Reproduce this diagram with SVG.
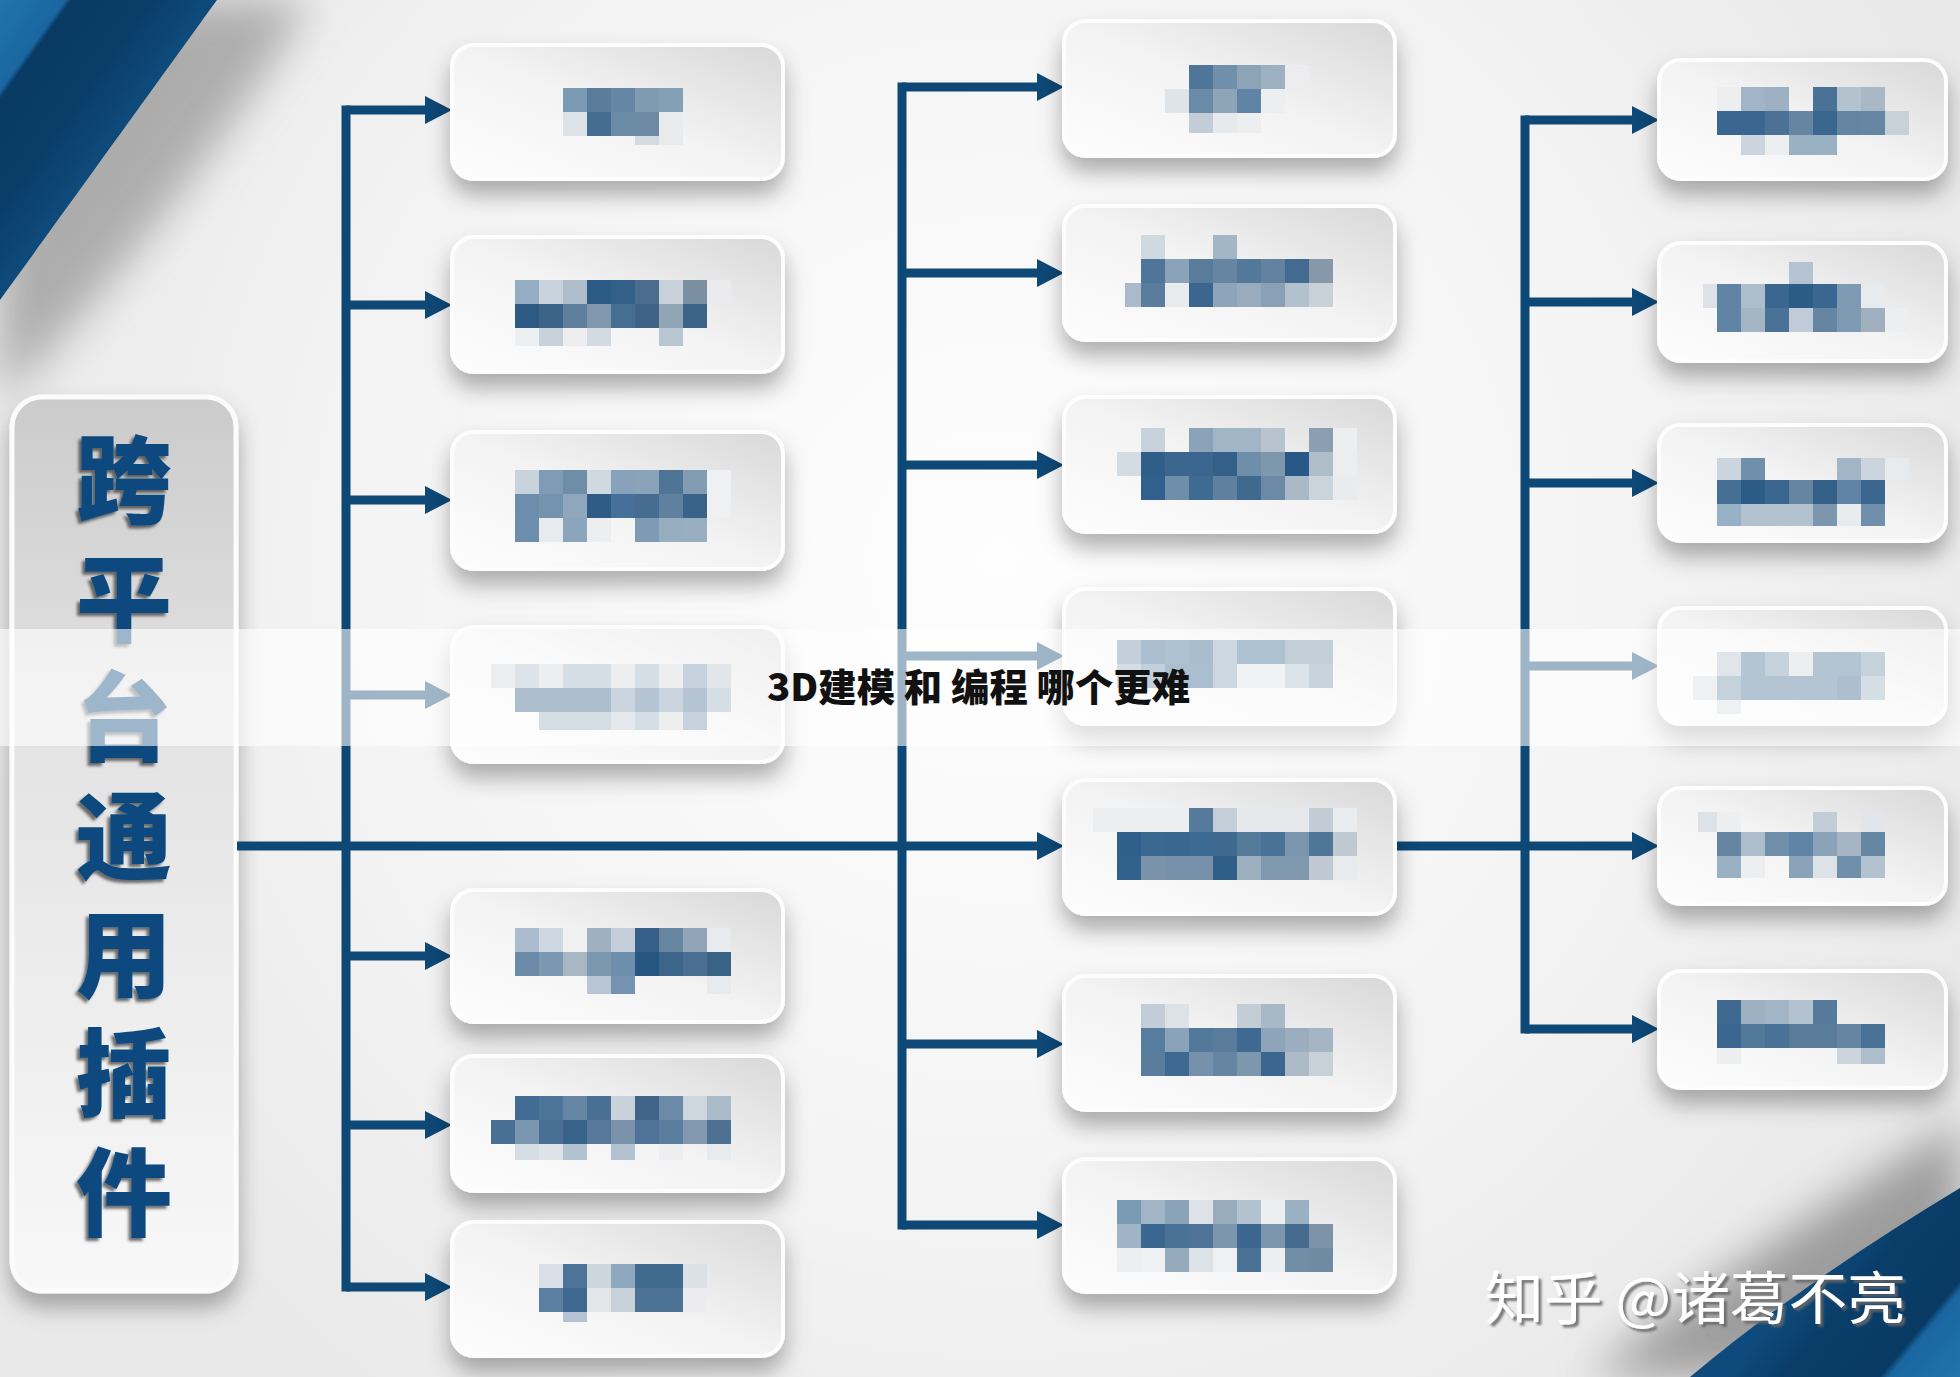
<svg xmlns="http://www.w3.org/2000/svg" width="1960" height="1377" viewBox="0 0 1960 1377">
<defs>
<style>
.box{fill:url(#boxg);stroke:#fdfdfd;stroke-width:4;filter:url(#sh)}
.ln{stroke:#0d4876;stroke-width:9;fill:none}
.ar{stroke:#0d4876;stroke-width:9;fill:none;marker-end:url(#ah)}
.nt{font-family:"Noto Sans CJK SC","Noto Sans CJK TC",sans-serif;font-weight:900;font-size:96px;fill:#0c4a7e;writing-mode:vertical-rl;letter-spacing:22.7px}
.tt{font-family:"Noto Sans CJK SC","Noto Sans CJK TC",sans-serif;font-weight:900;font-size:38px;fill:#111}
.wm{font-family:"Noto Sans CJK SC","Noto Sans CJK TC",sans-serif;font-weight:400;font-size:57px;fill:#fff}
</style>
<linearGradient id="boxg" x1="0" y1="1" x2="1" y2="0">
<stop offset="0" stop-color="#fdfdfd"/><stop offset="0.5" stop-color="#f3f3f3"/><stop offset="1" stop-color="#d8d8d8"/>
</linearGradient>
<linearGradient id="lng" x1="0" y1="0" x2="0" y2="1">
<stop offset="0" stop-color="#cbcbcb"/><stop offset="0.35" stop-color="#e2e2e2"/><stop offset="1" stop-color="#f8f8f8"/>
</linearGradient>
<radialGradient id="bgr" cx="1000" cy="560" r="1050" gradientUnits="userSpaceOnUse">
<stop offset="0" stop-color="#ffffff" stop-opacity="0.95"/><stop offset="0.6" stop-color="#ffffff" stop-opacity="0.5"/><stop offset="1" stop-color="#ffffff" stop-opacity="0"/>
</radialGradient>
<linearGradient id="tlg" x1="0" y1="0" x2="143" y2="103" gradientUnits="userSpaceOnUse">
<stop offset="0" stop-color="#2174ae"/><stop offset="0.3" stop-color="#1a66a0"/><stop offset="0.33" stop-color="#083a63"/><stop offset="0.7" stop-color="#0a3e69"/><stop offset="1" stop-color="#0e4b7c"/>
</linearGradient>
<linearGradient id="brg" x1="1960" y1="1377" x2="1820" y2="1260" gradientUnits="userSpaceOnUse">
<stop offset="0" stop-color="#2174ae"/><stop offset="0.3" stop-color="#1a66a0"/><stop offset="0.34" stop-color="#083a63"/><stop offset="0.75" stop-color="#0a3e69"/><stop offset="1" stop-color="#0e4b7c"/>
</linearGradient>
<filter id="sh" x="-10%" y="-20%" width="120%" height="160%">
<feDropShadow dx="0" dy="14" stdDeviation="11" flood-color="#000" flood-opacity="0.3"/>
</filter>
<filter id="blur" x="-50%" y="-50%" width="200%" height="200%"><feGaussianBlur stdDeviation="22"/></filter>
<filter id="tsh" x="-20%" y="-20%" width="140%" height="140%">
<feDropShadow dx="-3" dy="3" stdDeviation="1.5" flood-color="#000" flood-opacity="0.55"/>
</filter>
<filter id="wsh" x="-10%" y="-20%" width="120%" height="140%">
<feDropShadow dx="3" dy="3" stdDeviation="1" flood-color="#666" flood-opacity="0.85"/>
</filter>
<marker id="ah" markerUnits="userSpaceOnUse" markerWidth="28" markerHeight="28" refX="7" refY="14" orient="auto">
<path d="M0 0 L27 14 L0 28 Z" fill="#0d4876"/>
</marker>
</defs>

<g id="background">
<rect width="1960" height="1377" fill="#e9e9e9"/>
<rect width="1960" height="1377" fill="url(#bgr)"/>
<path d="M0 0 H310 C260 90 125 280 0 400 Z" fill="#7a7a7a" opacity="0.55" filter="url(#blur)"/>
<path d="M1590 1377 C1690 1290 1840 1200 1960 1120 V1377 Z" fill="#6a6a6a" opacity="0.6" filter="url(#blur)"/>
<path d="M0 0 H217 C172 62 62 215 0 300 Z" fill="url(#tlg)"/>
<path d="M1690 1377 C1770 1310 1865 1245 1960 1188 V1377 Z" fill="url(#brg)"/>
</g>

<g id="n-root">
<rect x="12" y="397" width="224" height="894" rx="30" fill="url(#lng)" stroke="#fbfbfb" stroke-width="5" filter="url(#sh)"/>
<text class="nt" x="124" y="431" filter="url(#tsh)">跨平台通用插件</text>
</g>

<g id="connectors">
<path class="ln" d="M346 105.5 V1291.5"/>
<path class="ar" d="M346 110 H432"/>
<path class="ar" d="M346 305 H432"/>
<path class="ar" d="M346 500 H432"/>
<path class="ar" d="M346 695 H432"/>
<path class="ar" d="M346 956 H432"/>
<path class="ar" d="M346 1125 H432"/>
<path class="ar" d="M346 1287 H432"/>
<path class="ar" d="M237 846 H1044"/>
<path class="ln" d="M902 82.5 V1229.5"/>
<path class="ar" d="M902 87 H1044"/>
<path class="ar" d="M902 273 H1044"/>
<path class="ar" d="M902 465 H1044"/>
<path class="ar" d="M902 656 H1044"/>
<path class="ar" d="M902 1044 H1044"/>
<path class="ar" d="M902 1225 H1044"/>
<path class="ln" d="M1395 846 H1525"/>
<path class="ln" d="M1525 115.5 V1033.5"/>
<path class="ar" d="M1525 120 H1639"/>
<path class="ar" d="M1525 302 H1639"/>
<path class="ar" d="M1525 483 H1639"/>
<path class="ar" d="M1525 666 H1639"/>
<path class="ar" d="M1525 846 H1639"/>
<path class="ar" d="M1525 1029 H1639"/>
</g>

<g id="n-L1">
<rect class="box" x="452" y="45" width="331" height="134" rx="22"/>
<rect x="563" y="88" width="24" height="24" fill="#7b9ab3"/><rect x="587" y="88" width="24" height="24" fill="#5a7d9c"/><rect x="611" y="88" width="24" height="24" fill="#6587a5"/><rect x="635" y="88" width="24" height="24" fill="#7e9bb2"/><rect x="659" y="88" width="24" height="24" fill="#84a0b5"/>
<rect x="563" y="112" width="24" height="24" fill="#dde2e7"/><rect x="587" y="112" width="24" height="24" fill="#456d91"/><rect x="611" y="112" width="24" height="24" fill="#6b8ba6"/><rect x="635" y="112" width="24" height="24" fill="#6c8aa3"/><rect x="659" y="112" width="24" height="24" fill="#e9ebed"/>
<rect x="635" y="136" width="24" height="9" fill="#d5dbe2"/><rect x="659" y="136" width="24" height="9" fill="#e8eaec"/>
</g>

<g id="n-L2">
<rect class="box" x="452" y="237" width="331" height="135" rx="22"/>
<rect x="515" y="280" width="24" height="24" fill="#94adc3"/><rect x="539" y="280" width="24" height="24" fill="#c9d3dd"/><rect x="563" y="280" width="24" height="24" fill="#aebccb"/><rect x="587" y="280" width="24" height="24" fill="#2c5b85"/><rect x="611" y="280" width="24" height="24" fill="#335f88"/><rect x="635" y="280" width="24" height="24" fill="#4a6d8e"/><rect x="659" y="280" width="24" height="24" fill="#c8d1da"/><rect x="683" y="280" width="24" height="24" fill="#7b8fa2"/><rect x="707" y="280" width="24" height="24" fill="#ebebed"/>
<rect x="515" y="304" width="24" height="24" fill="#2d5a83"/><rect x="539" y="304" width="24" height="24" fill="#3c6488"/><rect x="563" y="304" width="24" height="24" fill="#5f7f9c"/><rect x="587" y="304" width="24" height="24" fill="#8097ad"/><rect x="611" y="304" width="24" height="24" fill="#456e92"/><rect x="635" y="304" width="24" height="24" fill="#3f6386"/><rect x="659" y="304" width="24" height="24" fill="#91a5b7"/><rect x="683" y="304" width="24" height="24" fill="#3c6388"/>
<rect x="515" y="328" width="24" height="18" fill="#eeeff1"/><rect x="539" y="328" width="24" height="18" fill="#c8d1da"/><rect x="563" y="328" width="24" height="18" fill="#eceef0"/><rect x="587" y="328" width="24" height="18" fill="#d3dae1"/><rect x="659" y="328" width="24" height="18" fill="#b8c6d3"/>
</g>

<g id="n-L3">
<rect class="box" x="452" y="432" width="331" height="137" rx="22"/>
<rect x="515" y="470" width="24" height="24" fill="#c9d3dd"/><rect x="539" y="470" width="24" height="24" fill="#7f9cb6"/><rect x="563" y="470" width="24" height="24" fill="#6e8ea8"/><rect x="587" y="470" width="24" height="24" fill="#d0d8e0"/><rect x="611" y="470" width="24" height="24" fill="#87a2ba"/><rect x="635" y="470" width="24" height="24" fill="#8aa3b8"/><rect x="659" y="470" width="24" height="24" fill="#4f7596"/><rect x="683" y="470" width="24" height="24" fill="#829cb2"/><rect x="707" y="470" width="24" height="24" fill="#eef0f2"/>
<rect x="515" y="494" width="24" height="24" fill="#6c8dab"/><rect x="539" y="494" width="24" height="24" fill="#7393ae"/><rect x="563" y="494" width="24" height="24" fill="#8ea7bc"/><rect x="587" y="494" width="24" height="24" fill="#2e5c86"/><rect x="611" y="494" width="24" height="24" fill="#46709a"/><rect x="635" y="494" width="24" height="24" fill="#466d91"/><rect x="659" y="494" width="24" height="24" fill="#5e819f"/><rect x="683" y="494" width="24" height="24" fill="#3a6389"/><rect x="707" y="494" width="24" height="24" fill="#eef0f2"/>
<rect x="515" y="518" width="24" height="24" fill="#6c8dab"/><rect x="539" y="518" width="24" height="24" fill="#e8ebee"/><rect x="563" y="518" width="24" height="24" fill="#8ba5bc"/><rect x="587" y="518" width="24" height="24" fill="#eceef0"/><rect x="635" y="518" width="24" height="24" fill="#7f9bb3"/><rect x="659" y="518" width="24" height="24" fill="#97adc0"/><rect x="683" y="518" width="24" height="24" fill="#98aec1"/>
</g>

<g id="n-L4">
<rect class="box" x="452" y="627" width="331" height="135" rx="22"/>
<rect x="491" y="664" width="24" height="24" fill="#cfd4d9"/><rect x="515" y="664" width="24" height="24" fill="#aab9c8"/><rect x="539" y="664" width="24" height="24" fill="#cfd4d9"/><rect x="563" y="664" width="24" height="24" fill="#96aabe"/><rect x="587" y="664" width="24" height="24" fill="#96aabe"/><rect x="611" y="664" width="24" height="24" fill="#cfd4d9"/><rect x="635" y="664" width="24" height="24" fill="#96aabe"/><rect x="659" y="664" width="24" height="24" fill="#cfd4d9"/><rect x="683" y="664" width="24" height="24" fill="#6e8eac"/><rect x="707" y="664" width="24" height="24" fill="#b6c0ca"/>
<rect x="515" y="688" width="24" height="24" fill="#345f87"/><rect x="539" y="688" width="24" height="24" fill="#345f87"/><rect x="563" y="688" width="24" height="24" fill="#345f87"/><rect x="587" y="688" width="24" height="24" fill="#345f87"/><rect x="611" y="688" width="24" height="24" fill="#7d96af"/><rect x="635" y="688" width="24" height="24" fill="#466b8e"/><rect x="659" y="688" width="24" height="24" fill="#7d96af"/><rect x="683" y="688" width="24" height="24" fill="#466b8e"/><rect x="707" y="688" width="24" height="24" fill="#96aabe"/>
<rect x="539" y="712" width="24" height="18" fill="#96aabe"/><rect x="563" y="712" width="24" height="18" fill="#96aabe"/><rect x="587" y="712" width="24" height="18" fill="#96aabe"/><rect x="611" y="712" width="24" height="18" fill="#bec8d2"/><rect x="635" y="712" width="24" height="18" fill="#96aabe"/><rect x="659" y="712" width="24" height="18" fill="#cfd4d9"/><rect x="683" y="712" width="24" height="18" fill="#6e8eac"/>
</g>

<g id="n-L5">
<rect class="box" x="452" y="890" width="331" height="132" rx="22"/>
<rect x="515" y="928" width="24" height="24" fill="#aabccd"/><rect x="539" y="928" width="24" height="24" fill="#cfd8e0"/><rect x="563" y="928" width="24" height="24" fill="#eef0f2"/><rect x="587" y="928" width="24" height="24" fill="#9fb0c1"/><rect x="611" y="928" width="24" height="24" fill="#c4ceda"/><rect x="635" y="928" width="24" height="24" fill="#355f88"/><rect x="659" y="928" width="24" height="24" fill="#67869f"/><rect x="683" y="928" width="24" height="24" fill="#90a5b8"/><rect x="707" y="928" width="24" height="24" fill="#e8ebee"/>
<rect x="515" y="952" width="24" height="24" fill="#6a8aa8"/><rect x="539" y="952" width="24" height="24" fill="#7a98b2"/><rect x="563" y="952" width="24" height="24" fill="#a9b7c5"/><rect x="587" y="952" width="24" height="24" fill="#7c97b0"/><rect x="611" y="952" width="24" height="24" fill="#6e8ead"/><rect x="635" y="952" width="24" height="24" fill="#285683"/><rect x="659" y="952" width="24" height="24" fill="#3d6589"/><rect x="683" y="952" width="24" height="24" fill="#4a6f92"/><rect x="707" y="952" width="24" height="24" fill="#3b6386"/>
<rect x="587" y="976" width="24" height="18" fill="#b8c6d3"/><rect x="611" y="976" width="24" height="18" fill="#7493b0"/><rect x="707" y="976" width="24" height="18" fill="#e8ebee"/>
</g>

<g id="n-L6">
<rect class="box" x="452" y="1056" width="331" height="135" rx="22"/>
<rect x="515" y="1096" width="24" height="24" fill="#436c94"/><rect x="539" y="1096" width="24" height="24" fill="#4c7498"/><rect x="563" y="1096" width="24" height="24" fill="#6587a5"/><rect x="587" y="1096" width="24" height="24" fill="#4a6f95"/><rect x="611" y="1096" width="24" height="24" fill="#c9d2db"/><rect x="635" y="1096" width="24" height="24" fill="#3f6488"/><rect x="659" y="1096" width="24" height="24" fill="#6b8aa7"/><rect x="683" y="1096" width="24" height="24" fill="#ced6de"/><rect x="707" y="1096" width="24" height="24" fill="#aabac8"/>
<rect x="491" y="1120" width="24" height="24" fill="#4a6f95"/><rect x="515" y="1120" width="24" height="24" fill="#7a95ae"/><rect x="539" y="1120" width="24" height="24" fill="#4a6f95"/><rect x="563" y="1120" width="24" height="24" fill="#3a6389"/><rect x="587" y="1120" width="24" height="24" fill="#56799b"/><rect x="611" y="1120" width="24" height="24" fill="#7a93ab"/><rect x="635" y="1120" width="24" height="24" fill="#50739a"/><rect x="659" y="1120" width="24" height="24" fill="#5b7d9e"/><rect x="683" y="1120" width="24" height="24" fill="#8299af"/><rect x="707" y="1120" width="24" height="24" fill="#4e7092"/>
<rect x="515" y="1144" width="24" height="16" fill="#d5dce3"/><rect x="539" y="1144" width="24" height="16" fill="#dde3e8"/><rect x="563" y="1144" width="24" height="16" fill="#b3c2d0"/><rect x="611" y="1144" width="24" height="16" fill="#b3c2d0"/><rect x="659" y="1144" width="24" height="16" fill="#eceef0"/><rect x="707" y="1144" width="24" height="16" fill="#e8ebee"/>
</g>

<g id="n-L7">
<rect class="box" x="452" y="1222" width="331" height="134" rx="22"/>
<rect x="539" y="1264" width="24" height="24" fill="#d8dfe6"/><rect x="563" y="1264" width="24" height="24" fill="#4d7398"/><rect x="587" y="1264" width="24" height="24" fill="#cdd5dd"/><rect x="611" y="1264" width="24" height="24" fill="#8ea8bf"/><rect x="635" y="1264" width="24" height="24" fill="#416a8f"/><rect x="659" y="1264" width="24" height="24" fill="#416a8f"/><rect x="683" y="1264" width="24" height="24" fill="#dbe1e6"/>
<rect x="539" y="1288" width="24" height="24" fill="#5a7fa0"/><rect x="563" y="1288" width="24" height="24" fill="#3f6890"/><rect x="587" y="1288" width="24" height="24" fill="#e4e7ea"/><rect x="611" y="1288" width="24" height="24" fill="#c8d1da"/><rect x="635" y="1288" width="24" height="24" fill="#4c7296"/><rect x="659" y="1288" width="24" height="24" fill="#4c7296"/><rect x="683" y="1288" width="24" height="24" fill="#ececee"/>
<rect x="563" y="1312" width="24" height="10" fill="#b3c3d3"/>
</g>

<g id="n-M1">
<rect class="box" x="1064" y="21" width="331" height="135" rx="22"/>
<rect x="1189" y="65" width="24" height="24" fill="#4f7699"/><rect x="1213" y="65" width="24" height="24" fill="#6f8fab"/><rect x="1237" y="65" width="24" height="24" fill="#8da3b6"/><rect x="1261" y="65" width="24" height="24" fill="#9db1c3"/><rect x="1285" y="65" width="24" height="24" fill="#ededef"/>
<rect x="1165" y="89" width="24" height="24" fill="#dfe4e9"/><rect x="1189" y="89" width="24" height="24" fill="#6b8aa7"/><rect x="1213" y="89" width="24" height="24" fill="#8ea5b8"/><rect x="1237" y="89" width="24" height="24" fill="#5f84a6"/><rect x="1261" y="89" width="24" height="24" fill="#eceef0"/>
<rect x="1189" y="113" width="24" height="20" fill="#c3cdd7"/><rect x="1213" y="113" width="24" height="20" fill="#e7eaed"/><rect x="1237" y="113" width="24" height="20" fill="#eceef0"/>
</g>

<g id="n-M2">
<rect class="box" x="1064" y="206" width="331" height="134" rx="22"/>
<rect x="1141" y="235" width="24" height="24" fill="#d0d8e0"/><rect x="1213" y="235" width="24" height="24" fill="#a3b6c8"/>
<rect x="1141" y="259" width="24" height="24" fill="#4f7699"/><rect x="1165" y="259" width="24" height="24" fill="#8aa3b8"/><rect x="1189" y="259" width="24" height="24" fill="#5a7c9b"/><rect x="1213" y="259" width="24" height="24" fill="#6585a3"/><rect x="1237" y="259" width="24" height="24" fill="#52789a"/><rect x="1261" y="259" width="24" height="24" fill="#6282a0"/><rect x="1285" y="259" width="24" height="24" fill="#426b8f"/><rect x="1309" y="259" width="24" height="24" fill="#8599ab"/>
<rect x="1125" y="283" width="16" height="24" fill="#a9bbcb"/><rect x="1141" y="283" width="24" height="24" fill="#5a7d9d"/><rect x="1165" y="283" width="24" height="24" fill="#e8ebee"/><rect x="1189" y="283" width="24" height="24" fill="#3c6690"/><rect x="1213" y="283" width="24" height="24" fill="#8ea5b9"/><rect x="1237" y="283" width="24" height="24" fill="#98acbe"/><rect x="1261" y="283" width="24" height="24" fill="#89a0b5"/><rect x="1285" y="283" width="24" height="24" fill="#b3c0cd"/><rect x="1309" y="283" width="24" height="24" fill="#c8d0d8"/>
</g>

<g id="n-M3">
<rect class="box" x="1064" y="397" width="331" height="135" rx="22"/>
<rect x="1141" y="428" width="24" height="24" fill="#c8d2dc"/><rect x="1189" y="428" width="24" height="24" fill="#8aa3b8"/><rect x="1213" y="428" width="24" height="24" fill="#a2b5c6"/><rect x="1237" y="428" width="24" height="24" fill="#a2b5c6"/><rect x="1261" y="428" width="24" height="24" fill="#b7c4d0"/><rect x="1309" y="428" width="24" height="24" fill="#8a9fb2"/><rect x="1333" y="428" width="24" height="24" fill="#eceef0"/>
<rect x="1117" y="452" width="24" height="24" fill="#d3dbe3"/><rect x="1141" y="452" width="24" height="24" fill="#2f5e88"/><rect x="1165" y="452" width="24" height="24" fill="#3a6690"/><rect x="1189" y="452" width="24" height="24" fill="#3a6690"/><rect x="1213" y="452" width="24" height="24" fill="#345f87"/><rect x="1237" y="452" width="24" height="24" fill="#6f8ea9"/><rect x="1261" y="452" width="24" height="24" fill="#7d97ad"/><rect x="1285" y="452" width="24" height="24" fill="#2a5886"/><rect x="1309" y="452" width="24" height="24" fill="#aebdca"/><rect x="1333" y="452" width="24" height="24" fill="#ebedef"/>
<rect x="1141" y="476" width="24" height="24" fill="#30608b"/><rect x="1165" y="476" width="24" height="24" fill="#6f8ea9"/><rect x="1189" y="476" width="24" height="24" fill="#3f6a92"/><rect x="1213" y="476" width="24" height="24" fill="#5f809e"/><rect x="1237" y="476" width="24" height="24" fill="#40698f"/><rect x="1261" y="476" width="24" height="24" fill="#6c8aa7"/><rect x="1285" y="476" width="24" height="24" fill="#a9b9c8"/><rect x="1309" y="476" width="24" height="24" fill="#cbd3db"/><rect x="1333" y="476" width="24" height="24" fill="#e9ebed"/>
</g>

<g id="n-M4">
<rect class="box" x="1064" y="589" width="331" height="135" rx="22"/>
<rect x="1117" y="640" width="24" height="24" fill="#6989a5"/><rect x="1141" y="640" width="24" height="24" fill="#2d5c87"/><rect x="1165" y="640" width="24" height="24" fill="#39668c"/><rect x="1189" y="640" width="24" height="24" fill="#285a84"/><rect x="1213" y="640" width="24" height="24" fill="#7f9bb1"/><rect x="1237" y="640" width="24" height="24" fill="#346489"/><rect x="1261" y="640" width="24" height="24" fill="#346489"/><rect x="1285" y="640" width="24" height="24" fill="#69879f"/><rect x="1309" y="640" width="24" height="24" fill="#69879f"/>
<rect x="1117" y="664" width="24" height="24" fill="#96aabe"/><rect x="1141" y="664" width="24" height="24" fill="#6989a5"/><rect x="1165" y="664" width="24" height="24" fill="#2d5c87"/><rect x="1189" y="664" width="24" height="24" fill="#2d5c87"/><rect x="1213" y="664" width="24" height="24" fill="#7f9bb1"/><rect x="1237" y="664" width="24" height="24" fill="#d9dee3"/><rect x="1261" y="664" width="24" height="24" fill="#d9dee3"/><rect x="1285" y="664" width="24" height="24" fill="#a7b9c8"/><rect x="1309" y="664" width="24" height="24" fill="#7591aa"/>
</g>

<g id="n-M5">
<rect class="box" x="1064" y="780" width="331" height="134" rx="22"/>
<rect x="1093" y="808" width="96" height="24" fill="#eceef0"/><rect x="1189" y="808" width="24" height="24" fill="#557a9c"/><rect x="1213" y="808" width="24" height="24" fill="#c4ced8"/><rect x="1237" y="808" width="72" height="24" fill="#e6e8eb"/><rect x="1309" y="808" width="24" height="24" fill="#c3ccd4"/><rect x="1333" y="808" width="24" height="24" fill="#eaedf0"/>
<rect x="1117" y="832" width="24" height="24" fill="#2f5f8a"/><rect x="1141" y="832" width="24" height="24" fill="#3b6890"/><rect x="1165" y="832" width="24" height="24" fill="#3a6790"/><rect x="1189" y="832" width="24" height="24" fill="#3d6a92"/><rect x="1213" y="832" width="24" height="24" fill="#40698f"/><rect x="1237" y="832" width="24" height="24" fill="#547a9b"/><rect x="1261" y="832" width="24" height="24" fill="#4a7196"/><rect x="1285" y="832" width="24" height="24" fill="#7a95ad"/><rect x="1309" y="832" width="24" height="24" fill="#4f7597"/><rect x="1333" y="832" width="24" height="24" fill="#c0c9d1"/>
<rect x="1117" y="856" width="24" height="24" fill="#30608b"/><rect x="1141" y="856" width="24" height="24" fill="#7a93ab"/><rect x="1165" y="856" width="24" height="24" fill="#7891aa"/><rect x="1189" y="856" width="24" height="24" fill="#7891aa"/><rect x="1213" y="856" width="24" height="24" fill="#2f5e88"/><rect x="1237" y="856" width="24" height="24" fill="#9cafbe"/><rect x="1261" y="856" width="24" height="24" fill="#7f98ae"/><rect x="1285" y="856" width="24" height="24" fill="#7f98ae"/><rect x="1309" y="856" width="24" height="24" fill="#c0c9d1"/><rect x="1333" y="856" width="24" height="24" fill="#e8eaec"/>
</g>

<g id="n-M6">
<rect class="box" x="1064" y="976" width="331" height="134" rx="22"/>
<rect x="1141" y="1004" width="24" height="24" fill="#c3cdd7"/><rect x="1165" y="1004" width="24" height="24" fill="#dde2e7"/><rect x="1237" y="1004" width="24" height="24" fill="#c4cdd6"/><rect x="1261" y="1004" width="24" height="24" fill="#a9b8c6"/>
<rect x="1141" y="1028" width="24" height="24" fill="#577d9e"/><rect x="1165" y="1028" width="24" height="24" fill="#8aa3b8"/><rect x="1189" y="1028" width="24" height="24" fill="#52789a"/><rect x="1213" y="1028" width="24" height="24" fill="#5a7c9b"/><rect x="1237" y="1028" width="24" height="24" fill="#3f6990"/><rect x="1261" y="1028" width="24" height="24" fill="#8ea5b9"/><rect x="1285" y="1028" width="24" height="24" fill="#9aaec0"/><rect x="1309" y="1028" width="24" height="24" fill="#a6b5c3"/>
<rect x="1141" y="1052" width="24" height="24" fill="#5a7d9d"/><rect x="1165" y="1052" width="24" height="24" fill="#3f6990"/><rect x="1189" y="1052" width="24" height="24" fill="#7591ac"/><rect x="1213" y="1052" width="24" height="24" fill="#6585a3"/><rect x="1237" y="1052" width="24" height="24" fill="#7d97ad"/><rect x="1261" y="1052" width="24" height="24" fill="#3c6690"/><rect x="1285" y="1052" width="24" height="24" fill="#adbac7"/><rect x="1309" y="1052" width="24" height="24" fill="#c8d0d8"/>
</g>

<g id="n-M7">
<rect class="box" x="1064" y="1159" width="331" height="133" rx="22"/>
<rect x="1117" y="1200" width="24" height="24" fill="#7b9ab3"/><rect x="1141" y="1200" width="24" height="24" fill="#a2b5c6"/><rect x="1165" y="1200" width="24" height="24" fill="#8aa3b8"/><rect x="1189" y="1200" width="24" height="24" fill="#dde2e7"/><rect x="1213" y="1200" width="24" height="24" fill="#98acbe"/><rect x="1237" y="1200" width="24" height="24" fill="#b3c2cf"/><rect x="1261" y="1200" width="24" height="24" fill="#eceef0"/><rect x="1285" y="1200" width="24" height="24" fill="#9ab0c3"/>
<rect x="1117" y="1224" width="24" height="24" fill="#9fb4c6"/><rect x="1141" y="1224" width="24" height="24" fill="#3a6690"/><rect x="1165" y="1224" width="24" height="24" fill="#4a7196"/><rect x="1189" y="1224" width="24" height="24" fill="#4f7497"/><rect x="1213" y="1224" width="24" height="24" fill="#7c97ad"/><rect x="1237" y="1224" width="24" height="24" fill="#3a6690"/><rect x="1261" y="1224" width="24" height="24" fill="#7c96ad"/><rect x="1285" y="1224" width="24" height="24" fill="#456b8f"/><rect x="1309" y="1224" width="24" height="24" fill="#7c93a8"/>
<rect x="1117" y="1248" width="24" height="24" fill="#eceef0"/><rect x="1141" y="1248" width="24" height="24" fill="#eff0f2"/><rect x="1165" y="1248" width="24" height="24" fill="#96aabd"/><rect x="1189" y="1248" width="24" height="24" fill="#dde2e7"/><rect x="1213" y="1248" width="24" height="24" fill="#eff0f2"/><rect x="1237" y="1248" width="24" height="24" fill="#4a7196"/><rect x="1261" y="1248" width="24" height="24" fill="#eceef0"/><rect x="1285" y="1248" width="24" height="24" fill="#728ea6"/><rect x="1309" y="1248" width="24" height="24" fill="#6f8aa3"/>
</g>

<g id="n-R1">
<rect class="box" x="1659" y="60" width="287" height="119" rx="22"/>
<rect x="1717" y="87" width="24" height="24" fill="#eceef0"/><rect x="1741" y="87" width="24" height="24" fill="#a1b5c7"/><rect x="1765" y="87" width="24" height="24" fill="#9db1c3"/><rect x="1813" y="87" width="24" height="24" fill="#4a7196"/><rect x="1837" y="87" width="24" height="24" fill="#b3c2cf"/><rect x="1861" y="87" width="24" height="24" fill="#a9b8c6"/>
<rect x="1717" y="111" width="24" height="24" fill="#3a6690"/><rect x="1741" y="111" width="24" height="24" fill="#3a6690"/><rect x="1765" y="111" width="24" height="24" fill="#4a7196"/><rect x="1789" y="111" width="24" height="24" fill="#6585a3"/><rect x="1813" y="111" width="24" height="24" fill="#3a6690"/><rect x="1837" y="111" width="24" height="24" fill="#6585a3"/><rect x="1861" y="111" width="24" height="24" fill="#6687a4"/><rect x="1885" y="111" width="24" height="24" fill="#c8d0d8"/>
<rect x="1741" y="135" width="24" height="20" fill="#ccd5dd"/><rect x="1765" y="135" width="24" height="20" fill="#eceef0"/><rect x="1789" y="135" width="24" height="20" fill="#9ab0c3"/><rect x="1813" y="135" width="24" height="20" fill="#9ab0c3"/>
</g>

<g id="n-R2">
<rect class="box" x="1659" y="243" width="287" height="118" rx="22"/>
<rect x="1789" y="262" width="24" height="22" fill="#b3c3d1"/>
<rect x="1703" y="284" width="14" height="24" fill="#dde2e7"/><rect x="1717" y="284" width="24" height="24" fill="#5f84a6"/><rect x="1741" y="284" width="24" height="24" fill="#aebdcb"/><rect x="1765" y="284" width="24" height="24" fill="#3a6690"/><rect x="1789" y="284" width="24" height="24" fill="#2c5b85"/><rect x="1813" y="284" width="24" height="24" fill="#3a6690"/><rect x="1837" y="284" width="24" height="24" fill="#7e9bb3"/><rect x="1861" y="284" width="24" height="24" fill="#e8ebee"/>
<rect x="1717" y="308" width="24" height="24" fill="#5f84a6"/><rect x="1741" y="308" width="24" height="24" fill="#a6b5c3"/><rect x="1765" y="308" width="24" height="24" fill="#4a7196"/><rect x="1789" y="308" width="24" height="24" fill="#c0ccd7"/><rect x="1813" y="308" width="24" height="24" fill="#6585a3"/><rect x="1837" y="308" width="24" height="24" fill="#7e9bb3"/><rect x="1861" y="308" width="24" height="24" fill="#a1b0be"/><rect x="1885" y="308" width="24" height="24" fill="#eceef0"/>
</g>

<g id="n-R3">
<rect class="box" x="1659" y="425" width="287" height="116" rx="22"/>
<rect x="1717" y="458" width="24" height="22" fill="#ccd5dd"/><rect x="1741" y="458" width="24" height="22" fill="#6f8fab"/><rect x="1837" y="458" width="24" height="22" fill="#a1b5c7"/><rect x="1861" y="458" width="24" height="22" fill="#ccd5dd"/><rect x="1885" y="458" width="24" height="22" fill="#e8ebee"/>
<rect x="1717" y="480" width="24" height="24" fill="#456f94"/><rect x="1741" y="480" width="24" height="24" fill="#2c5b85"/><rect x="1765" y="480" width="24" height="24" fill="#3a6690"/><rect x="1789" y="480" width="24" height="24" fill="#6585a3"/><rect x="1813" y="480" width="24" height="24" fill="#345f87"/><rect x="1837" y="480" width="24" height="24" fill="#5f84a6"/><rect x="1861" y="480" width="24" height="24" fill="#3a6690"/>
<rect x="1717" y="504" width="24" height="22" fill="#98b0c4"/><rect x="1741" y="504" width="24" height="22" fill="#b3c2cf"/><rect x="1765" y="504" width="24" height="22" fill="#b3c2cf"/><rect x="1789" y="504" width="24" height="22" fill="#b3c2cf"/><rect x="1813" y="504" width="24" height="22" fill="#7c96ad"/><rect x="1837" y="504" width="24" height="22" fill="#e8ebee"/><rect x="1861" y="504" width="24" height="22" fill="#6f8fab"/>
</g>

<g id="n-R4">
<rect class="box" x="1659" y="608" width="287" height="116" rx="22"/>
<rect x="1717" y="652" width="24" height="24" fill="#afbecd"/><rect x="1741" y="652" width="24" height="24" fill="#416b8e"/><rect x="1765" y="652" width="24" height="24" fill="#6e8ea7"/><rect x="1789" y="652" width="24" height="24" fill="#cfd4d9"/><rect x="1813" y="652" width="24" height="24" fill="#416b8e"/><rect x="1837" y="652" width="24" height="24" fill="#416b8e"/><rect x="1861" y="652" width="24" height="24" fill="#6e8ea7"/>
<rect x="1693" y="676" width="24" height="24" fill="#d4d9de"/><rect x="1717" y="676" width="24" height="24" fill="#6e8ea7"/><rect x="1741" y="676" width="24" height="24" fill="#446d90"/><rect x="1765" y="676" width="24" height="24" fill="#446d90"/><rect x="1789" y="676" width="24" height="24" fill="#446d90"/><rect x="1813" y="676" width="24" height="24" fill="#446d90"/><rect x="1837" y="676" width="24" height="24" fill="#345f87"/><rect x="1861" y="676" width="24" height="24" fill="#96aabe"/>
<rect x="1717" y="700" width="24" height="14" fill="#d4d9de"/>
</g>

<g id="n-R5">
<rect class="box" x="1659" y="788" width="287" height="116" rx="22"/>
<rect x="1698" y="812" width="19" height="20" fill="#dde2e7"/><rect x="1717" y="812" width="24" height="20" fill="#eceef0"/><rect x="1813" y="812" width="24" height="20" fill="#c3cdd7"/><rect x="1861" y="812" width="24" height="20" fill="#e2e6ea"/>
<rect x="1717" y="832" width="24" height="24" fill="#6585a3"/><rect x="1741" y="832" width="24" height="24" fill="#aebdcb"/><rect x="1765" y="832" width="24" height="24" fill="#6f8fab"/><rect x="1789" y="832" width="24" height="24" fill="#5f84a6"/><rect x="1813" y="832" width="24" height="24" fill="#8aa3b8"/><rect x="1837" y="832" width="24" height="24" fill="#a6b5c3"/><rect x="1861" y="832" width="24" height="24" fill="#6687a4"/>
<rect x="1717" y="856" width="24" height="22" fill="#9ab0c3"/><rect x="1741" y="856" width="24" height="22" fill="#eceef0"/><rect x="1789" y="856" width="24" height="22" fill="#8aa3b8"/><rect x="1813" y="856" width="24" height="22" fill="#dde2e7"/><rect x="1837" y="856" width="24" height="22" fill="#6f8fab"/><rect x="1861" y="856" width="24" height="22" fill="#b3c2cf"/>
</g>

<g id="n-R6">
<rect class="box" x="1659" y="971" width="287" height="117" rx="22"/>
<rect x="1717" y="1000" width="24" height="24" fill="#3f6990"/><rect x="1741" y="1000" width="24" height="24" fill="#9db1c3"/><rect x="1765" y="1000" width="24" height="24" fill="#a1b5c7"/><rect x="1789" y="1000" width="24" height="24" fill="#b3c2cf"/><rect x="1813" y="1000" width="24" height="24" fill="#557a9c"/>
<rect x="1717" y="1024" width="24" height="24" fill="#3a6690"/><rect x="1741" y="1024" width="24" height="24" fill="#52789a"/><rect x="1765" y="1024" width="24" height="24" fill="#4a7196"/><rect x="1789" y="1024" width="24" height="24" fill="#5a7c9b"/><rect x="1813" y="1024" width="24" height="24" fill="#5a7c9b"/><rect x="1837" y="1024" width="24" height="24" fill="#6585a3"/><rect x="1861" y="1024" width="24" height="24" fill="#4a7196"/>
<rect x="1717" y="1048" width="24" height="16" fill="#eceef0"/><rect x="1837" y="1048" width="24" height="16" fill="#ccd5dd"/><rect x="1861" y="1048" width="24" height="16" fill="#aebdcb"/>
</g>

<g id="title-band">
<rect x="0" y="629" width="1960" height="117" fill="#ffffff" opacity="0.6"/>
<text class="tt" x="767" y="701" textLength="423" lengthAdjust="spacingAndGlyphs">3D建模 和 编程 哪个更难</text>
</g>

<g id="watermark">
<text class="wm" x="1485" y="1319" textLength="421" lengthAdjust="spacingAndGlyphs" filter="url(#wsh)">知乎 @诸葛不亮</text>
</g>
</svg>
